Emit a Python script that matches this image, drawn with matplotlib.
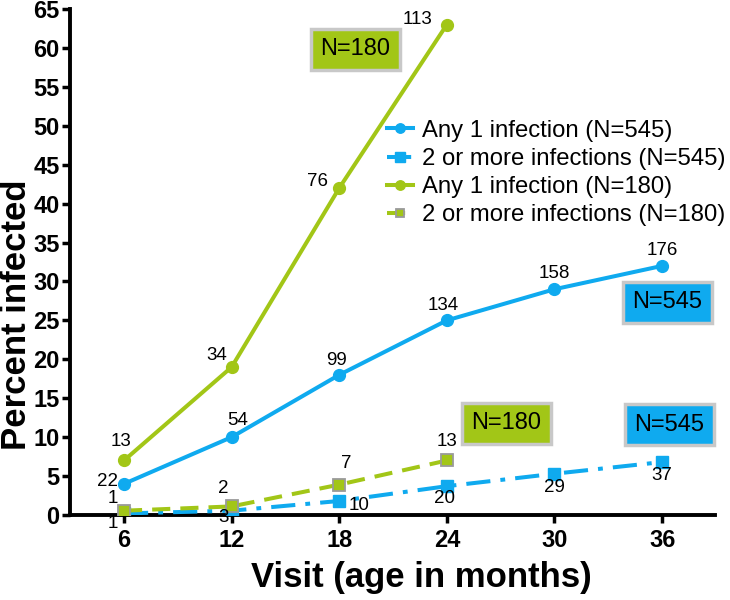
import numpy as np
import matplotlib
matplotlib.use("Agg")
from matplotlib import pyplot as plt

plt.rcParams['font.family'] = ['Liberation Sans', 'DejaVu Sans']

# visits (age in months)
visits_545 = [6, 12, 18, 24, 30, 36]
visits_180 = [6, 12, 18, 24]

# percent infected
any1_545 = [4.0, 10.0, 18.0, 25.0, 29.0, 32.0]
more2_545 = [0.2, 0.55, 1.8, 3.7, 5.3, 6.8]
any1_180 = [7.0, 19.0, 42.0, 63.0]
more2_180 = [0.55, 1.1, 3.9, 7.0]

# counts written next to points
any1_545_n = [22, 54, 99, 134, 158, 176]
more2_545_n = [1, 3, 10, 20, 29, 37]
any1_180_n = [13, 34, 76, 113]
more2_180_n = [1, 2, 7, 13]

blue = '#0FAAEF'
green = '#A2C617'
grey = '#9A9A9A'

fig = plt.figure(figsize=(7.3, 6), dpi=100)
ax = fig.add_axes([0.0959, 0.1417, 0.8836, 0.8433])

ax.plot(visits_545, any1_545, '-o', color=blue, lw=2.9, ms=8.5, label='Any 1 infection (N=545)', zorder=3)
ax.plot(visits_545, more2_545, color=blue, ls='-.', marker='s', lw=2.9, ms=8.5,
        label='2 or more infections (N=545)', dashes=(6, 2.5, 1.2, 2.5), zorder=3)
ax.plot(visits_180, any1_180, '-o', color=green, lw=2.9, ms=8.5, label='Any 1 infection (N=180)', zorder=3)
ax.plot(visits_180, more2_180, color=green, ls='--', marker='s', lw=2.9, ms=8,
        mec=grey, mew=1.3, label='2 or more infections (N=180)', dashes=(4.5, 2.5), zorder=3)

def label_pts(xs, ys, ns, offs):
    for x, y, n, (dx, dy) in zip(xs, ys, ns, offs):
        ax.annotate(str(n), (x, y), xytext=(dx, dy), textcoords='offset points',
                    ha='center', va='center', fontsize=13.5)

label_pts(visits_545, any1_545, any1_545_n,
          [(-12, 2), (4, 12), (-2, 10), (-3, 11), (0, 11), (0, 11)])
label_pts(visits_180, any1_180, any1_180_n,
          [(-2, 14), (-11, 8), (-16, 5), (-21, 4)])
label_pts(visits_545, more2_545, more2_545_n,
          [(-8, -7), (-6, -5), (14, -3), (-2, -9), (0, -10), (0, -10)])
label_pts(visits_180, more2_180, more2_180_n,
          [(-8, 9), (-6, 13), (5, 15), (0, 14)])

# N boxes
boxes = [(18.9, 59.8, 'N=180', green), (36.3, 27.3, 'N=545', blue),
         (27.3, 11.8, 'N=180', green), (36.4, 11.6, 'N=545', blue)]
for bx, by, txt, col in boxes:
    ax.text(bx, by, txt, ha='center', va='center', fontsize=17,
            bbox=dict(boxstyle='square,pad=0.4', fc=col, ec='#C8C8C8', lw=2.5))

ax.set_xlim(2.99, 38.95)
ax.set_ylim(0, 65)
ax.set_xticks(visits_545)
ax.set_yticks(np.arange(0, 66, 5))
ax.tick_params(axis='both', labelsize=17, width=2.5, length=6, direction='out')
for lab in ax.get_xticklabels() + ax.get_yticklabels():
    lab.set_fontweight('bold')
ax.tick_params(axis='y', pad=1.5)
ax.tick_params(axis='x', pad=4)

for s in ['top', 'right']:
    ax.spines[s].set_visible(False)
for s in ['left', 'bottom']:
    ax.spines[s].set_linewidth(2.8)

ax.set_ylabel('Percent infected', fontsize=25, fontweight='bold', va='center', ha='center')
ax.yaxis.set_label_coords(-0.083, 0.396)
ax.set_xlabel('Visit (age in months)', fontsize=25, fontweight='bold', va='center', ha='center')
ax.xaxis.set_label_coords(0.544, -0.124)

ax.legend(loc='upper left', bbox_to_anchor=(0.476, 0.80), frameon=False, fontsize=17.2,
          handlelength=1.1, handletextpad=0.4, labelspacing=0.26, borderaxespad=0,
          markerscale=0.8)

fig.savefig('out.png', dpi=100)
